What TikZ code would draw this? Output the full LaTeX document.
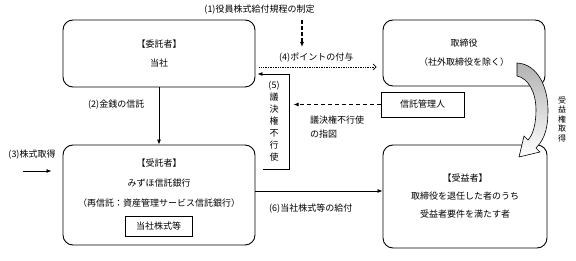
\documentclass[tikz,border=0pt]{standalone}
\usepackage{fontspec}
\newfontfamily\jpfont{Noto Sans CJK JP}
\usetikzlibrary{arrows.meta, positioning, calc}
\tikzset{
  rbox/.style={draw, rounded corners=10pt, line width=0.9pt, inner sep=0pt},
  sbox/.style={draw, line width=0.8pt, inner sep=0pt},
  lbl/.style={inner sep=0pt},
  arr/.style={-{Latex[length=5pt,width=4pt]}, line width=0.8pt},
  darr/.style={arr, dash pattern=on 4pt off 3pt},
  parr/.style={-{Straight Barb[length=3pt,width=6pt]}, densely dotted, line width=0.7pt},
}
\begin{document}
\begin{tikzpicture}[x=1pt, y=-1pt, every node/.style={font=\jpfont\fontsize{9}{11}\selectfont}]
  \useasboundingbox (0,0) rectangle (576,261);

  % boxes
  \node[rbox, minimum width=192pt, minimum height=67pt, align=center] (itaku) at (159,53.5) {【委託者】\\[8pt]当社};
  \node[rbox, minimum width=162pt, minimum height=66pt, align=center] (torishimari) at (464,53) {取締役\\[8pt]（社外取締役を除く）};
  \node[rbox, minimum width=192pt, minimum height=100pt] (jutaku) at (159,195) {};
  \node[lbl, align=center] (jutakutxt) at (159,183) {【受託者】\\[9pt]みずほ信託銀行\\[9pt]（再信託：資産管理サービス信託銀行）};
  \node[sbox, minimum width=67pt, minimum height=20pt] (kabu) at (158.5,226) {当社株式等};
  \node[rbox, minimum width=164pt, minimum height=103pt, align=center] (jueki) at (465,196.5) {【受益者】\\[7pt]取締役を退任した者のうち\\[7pt]受益者要件を満たす者};
  \node[sbox, minimum width=83pt, minimum height=25pt] (kanri) at (422.5,104.5) {信託管理人};

  % labels
  \node[lbl] (l1) at (259.5,10) {(1)役員株式給付規程の制定};
  \node[lbl, anchor=west] (l2) at (88,105) {(2)金銭の信託};
  \node[lbl] (l3) at (32,155) {(3)株式取得};
  \node[lbl, anchor=west] (l4) at (279,58) {(4)ポイントの付与};
  \node[lbl, align=center, font=\jpfont\fontsize{9}{12}\selectfont] (l5) at (274,121.5) {(5)\\議\\決\\権\\不\\行\\使};
  \node[lbl, anchor=west] (l6) at (269,209) {(6)当社株式等の給付};
  \node[lbl, align=left, anchor=west] (lsizu) at (310,127) {議決権不行使\\[3pt]の指図};
  \node[lbl, align=center, font=\jpfont\fontsize{8}{9.5}\selectfont] (lju) at (562,119) {受\\益\\権\\取\\得};

  % connectors
  \coordinate (c1) at (302,20);
  \coordinate (c3) at (23,171);
  \coordinate (c5) at (263,169);
  \draw[arr, line width=1.2pt, dash pattern=on 4pt off 2pt] (c1) -- ++(0,27);
  \draw[arr] (itaku) -- (jutaku);
  \draw[arr] (c3) -- ([xshift=-11pt,yshift=24pt]jutaku.west);
  \draw[parr] ([xshift=4pt,yshift=-13.5pt]itaku.east) -- ([xshift=-6pt,yshift=-14pt]torishimari.west);
  \draw[arr] (c5) -- ++(26,0) |- ([xshift=2pt,yshift=-20.5pt]itaku.east);
  \draw[darr] (kanri.west) -- ++(-87,0);
  \draw[arr] ([yshift=4pt]jutaku.east) -- ([yshift=4pt]jutaku.east -| jueki.west);

  % curved arrow
  \draw[line width=0.6pt, top color=gray!60, bottom color=white]
    (517,63) .. controls (538,64) and (548,88) .. (548,110)
    .. controls (548,125) and (546,138) .. (536,148)
    -- (540,152) -- (519,157) -- (524,136) -- (528,140)
    .. controls (533,135) and (536,124) .. (536,110)
    .. controls (536,92) and (528,78) .. (517,76) -- cycle;
\end{tikzpicture}
\end{document}
